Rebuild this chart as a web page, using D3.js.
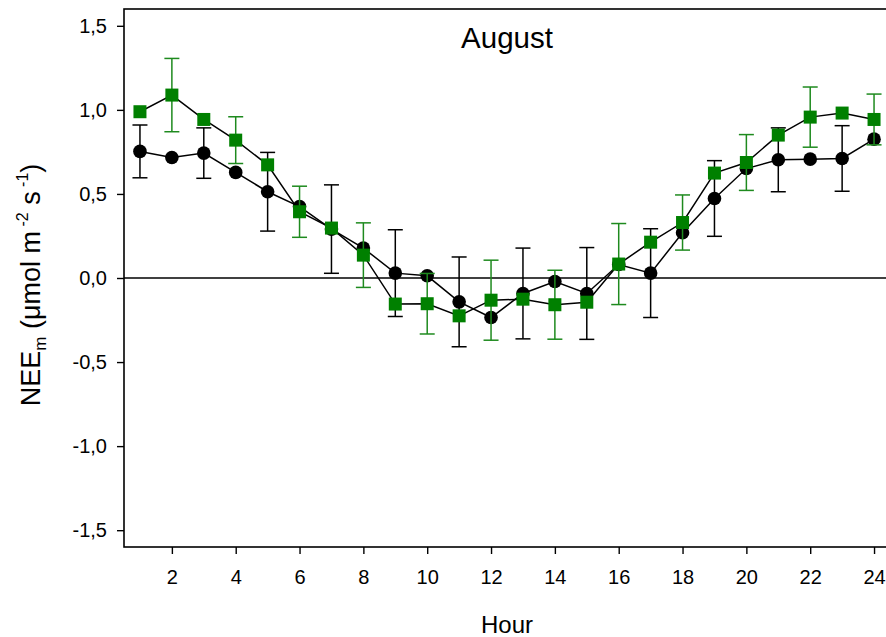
<!DOCTYPE html>
<html>
<head>
<meta charset="utf-8">
<script src="https://cdn.jsdelivr.net/npm/d3@7"></script>
<style>
  html, body { margin: 0; padding: 0; background: #fff; }
  svg { display: block; font-family: Arial, "Liberation Sans", sans-serif; }
</style>
</head>
<body>
<div id="chart"></div>
<script>
const hours = d3.range(1, 25);
const blackValues = [0.753,0.717,0.743,0.628,0.513,0.425,0.291,0.178,0.029,0.013,-0.142,-0.235,-0.092,-0.021,-0.092,0.080,0.029,0.269,0.473,0.651,0.703,0.707,0.711,0.826];
const blackErrors = [0.157,null,0.150,null,0.234,null,0.263,null,0.258,null,0.267,null,0.270,null,0.273,null,0.264,null,0.225,null,0.190,null,0.195,null];
const greenValues = [0.989,1.088,0.943,0.820,0.673,0.394,0.297,0.136,-0.155,-0.153,-0.225,-0.132,-0.126,-0.159,-0.144,0.083,0.213,0.330,0.624,0.687,0.850,0.957,0.981,0.943];
const greenErrors = [null,0.218,null,0.139,null,0.152,null,0.192,null,0.180,null,0.238,null,0.205,null,0.241,null,0.164,null,0.166,null,0.179,null,0.151];
const xTicks = [2,4,6,8,10,12,14,16,18,20,22,24];
const yTicks = [-1.5,-1.0,-0.5,0.0,0.5,1.0,1.5];
const title = "August";
const xLabel = "Hour";

const W = 886, H = 637;
const svg = d3.select("#chart").append("svg").attr("width", W).attr("height", H);

const x = d3.scaleLinear().domain([0.5, 24.5]).range([124, 890]);
const y = d3.scaleLinear().domain([-1.6, 1.6]).range([547, 9]);

const fmt = v => d3.format(".1f")(v).replace(".", ",").replace("−", "-");

// frame
svg.append("rect")
  .attr("x", x(0.5)).attr("y", y(1.6))
  .attr("width", x(24.5) - x(0.5)).attr("height", y(-1.6) - y(1.6))
  .attr("fill", "none").attr("stroke", "#000").attr("stroke-width", 1.6);

// axes
const xAxis = d3.axisBottom(x).tickValues(xTicks).tickSize(7).tickPadding(16).tickFormat(d3.format("d"));
const gx = svg.append("g").attr("transform", `translate(0,${y(-1.6)})`).call(xAxis);
gx.select(".domain").remove();
gx.selectAll("line").attr("stroke-width", 1.4);
gx.selectAll("text").attr("font-size", 20).attr("font-family", "Arial, 'Liberation Sans', sans-serif").attr("fill", "#000");

const yAxis = d3.axisLeft(y).tickValues(yTicks).tickSize(7).tickPadding(10).tickFormat(fmt);
const gy = svg.append("g").attr("transform", `translate(${x(0.5)},0)`).call(yAxis);
gy.select(".domain").remove();
gy.selectAll("line").attr("stroke-width", 1.4);
gy.selectAll("text").attr("font-size", 20).attr("font-family", "Arial, 'Liberation Sans', sans-serif").attr("fill", "#000");

// zero line
svg.append("line")
  .attr("x1", x(0.5)).attr("x2", x(24.5))
  .attr("y1", y(0)).attr("y2", y(0))
  .attr("stroke", "#000").attr("stroke-width", 1.5);

const blackData = hours.map((h, i) => ({h, v: blackValues[i], e: blackErrors[i]}));
const greenData = hours.map((h, i) => ({h, v: greenValues[i], e: greenErrors[i]}));

const line = d3.line().x(d => x(d.h)).y(d => y(d.v));

function errorBars(data, color, cls) {
  const g = svg.append("g").attr("class", cls);
  const ed = data.filter(d => d.e != null);
  g.selectAll("line.v").data(ed).join("line")
    .attr("x1", d => x(d.h)).attr("x2", d => x(d.h))
    .attr("y1", d => y(d.v + d.e)).attr("y2", d => y(d.v - d.e))
    .attr("stroke", color).attr("stroke-width", 1.5);
  g.selectAll("line.t").data(ed).join("line")
    .attr("x1", d => x(d.h) - 7.5).attr("x2", d => x(d.h) + 7.5)
    .attr("y1", d => y(d.v + d.e)).attr("y2", d => y(d.v + d.e))
    .attr("stroke", color).attr("stroke-width", 1.5);
  g.selectAll("line.b").data(ed).join("line")
    .attr("x1", d => x(d.h) - 7.5).attr("x2", d => x(d.h) + 7.5)
    .attr("y1", d => y(d.v - d.e)).attr("y2", d => y(d.v - d.e))
    .attr("stroke", color).attr("stroke-width", 1.5);
}

// black series
svg.append("path").datum(blackData).attr("d", line)
  .attr("fill", "none").attr("stroke", "#000").attr("stroke-width", 1.5);
errorBars(blackData, "#000", "err-black");
svg.append("g").selectAll("circle").data(blackData).join("circle")
  .attr("cx", d => x(d.h)).attr("cy", d => y(d.v)).attr("r", 6.8)
  .attr("fill", "#000");

// green series
svg.append("path").datum(greenData).attr("d", line)
  .attr("fill", "none").attr("stroke", "#000").attr("stroke-width", 1.5);
errorBars(greenData, "#1e8a1e", "err-green");
const sq = 13;
svg.append("g").selectAll("rect").data(greenData).join("rect")
  .attr("x", d => x(d.h) - sq / 2).attr("y", d => y(d.v) - sq / 2)
  .attr("width", sq).attr("height", sq)
  .attr("fill", "#008000");

// title
svg.append("text").attr("x", 507).attr("y", 48).attr("text-anchor", "middle")
  .attr("font-size", 29.5).attr("fill", "#000").text(title);

// x label
svg.append("text").attr("x", 507).attr("y", 633).attr("text-anchor", "middle")
  .attr("font-size", 24).attr("fill", "#000").text(xLabel);

// y label
const yl = svg.append("text")
  .attr("transform", "translate(40,285) rotate(-90)")
  .attr("text-anchor", "middle").attr("font-size", 27).attr("fill", "#000");
yl.append("tspan").text("NEE");
yl.append("tspan").attr("font-size", 17).attr("dy", 6).text("m");
yl.append("tspan").attr("dy", -6).text(" (μmol m");
yl.append("tspan").attr("font-size", 16).attr("dy", -12).text(" -2");
yl.append("tspan").attr("dy", 12).text(" s");
yl.append("tspan").attr("font-size", 16).attr("dy", -12).text(" -1");
yl.append("tspan").attr("dy", 12).text(")");
</script>
</body>
</html>
